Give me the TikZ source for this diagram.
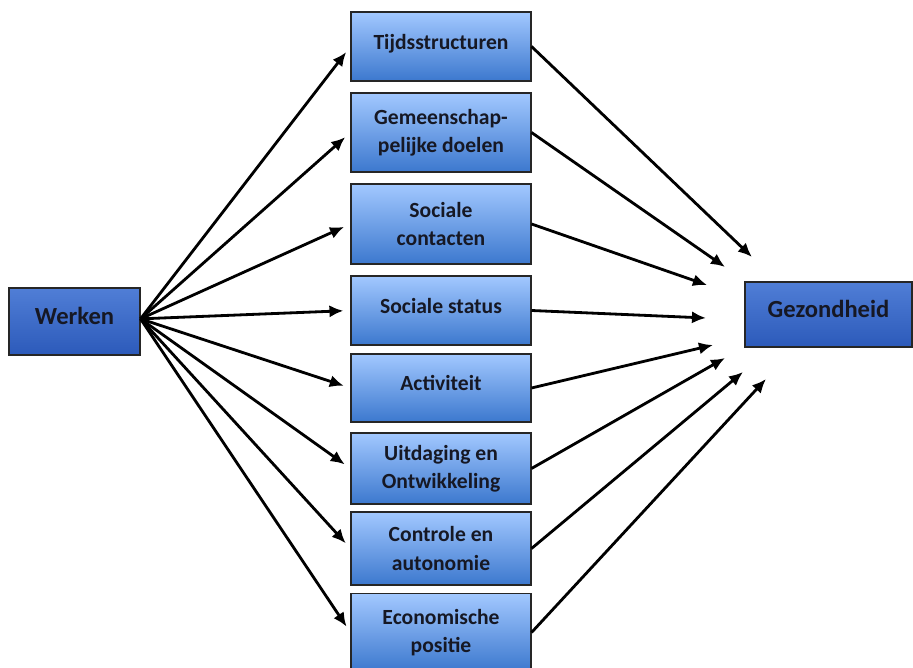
\documentclass[tikz,border=0pt]{standalone}
\usepackage{fontspec}
\setmainfont{Carlito}
\usetikzlibrary{arrows.meta,shadows,positioning}
\definecolor{boxtop}{RGB}{162,200,255}
\definecolor{boxbot}{RGB}{60,120,206}
\definecolor{endtop}{RGB}{80,126,214}
\definecolor{endbot}{RGB}{44,90,186}
\definecolor{txt}{RGB}{22,24,36}

\begin{document}
\begin{tikzpicture}[
    x=0.02cm, y=-0.02cm,
    font=\bfseries\fontsize{12.3}{16}\selectfont,
    >={Latex[length=8pt,width=7pt]},
    every node/.style={align=center, text=txt},
    factor/.style={draw=black!85, line width=0.6pt, top color=boxtop, bottom color=boxbot,
      minimum width=3.6cm, drop shadow={shadow xshift=0.8pt, shadow yshift=-0.8pt, opacity=0.3}},
    ends/.style={factor, top color=endtop, bottom color=endbot, font=\bfseries\fontsize{14}{17}\selectfont},
    oneline/.style={text height=0.32cm, text depth=0.2cm},
    link/.style={->, line width=1.6pt}
  ]
    \useasboundingbox (0,0) rectangle (913,668);

    % bron en doel
    \node[ends,oneline,minimum width=2.62cm,minimum height=1.34cm] (W) at (74.5,321.5) {Werken};
    \node[ends,oneline,minimum width=3.34cm,minimum height=1.3cm] (G) at (828.5,314.5) {Gezondheid};

    % tussenliggende factoren
    \node[factor,oneline,minimum height=1.38cm] (F1) at (441,46.5) {Tijdsstructuren};
    \node[factor,minimum height=1.58cm] (F2) at (441,132.5) {Gemeenschap-\\pelijke doelen};
    \node[factor,minimum height=1.6cm] (F3) at (441,224) {Sociale\\contacten};
    \node[factor,oneline,minimum height=1.38cm] (F4) at (441,310.5) {Sociale status};
    \node[factor,oneline,minimum height=1.36cm] (F5) at (441,388) {Activiteit};
    \node[factor,minimum height=1.42cm] (F6) at (441,468.5) {Uitdaging en\\Ontwikkeling};
    \node[factor,minimum height=1.46cm] (F7) at (441,548.5) {Controle en\\autonomie};
    \node[factor,minimum height=1.55cm] (F8) at (441,632.5) {Economische\\positie};

    % pijlpunten rond Gezondheid
    \coordinate (T1) at (752,257);
    \coordinate (T2) at (725,267);
    \coordinate (T3) at (707,285);
    \coordinate (T4) at (706,318);
    \coordinate (T5) at (713,345);
    \coordinate (T6) at (725,358);
    \coordinate (T7) at (743,372);
    \coordinate (T8) at (766,379);

    % pijlen
    \foreach \i in {1,...,8}{
      \draw[link,shorten >=4pt] ([yshift=1.5pt]W.east) -- (F\i.west);
      \draw[link] (F\i.east) -- (T\i);
    }

  \end{tikzpicture}
\end{document}
